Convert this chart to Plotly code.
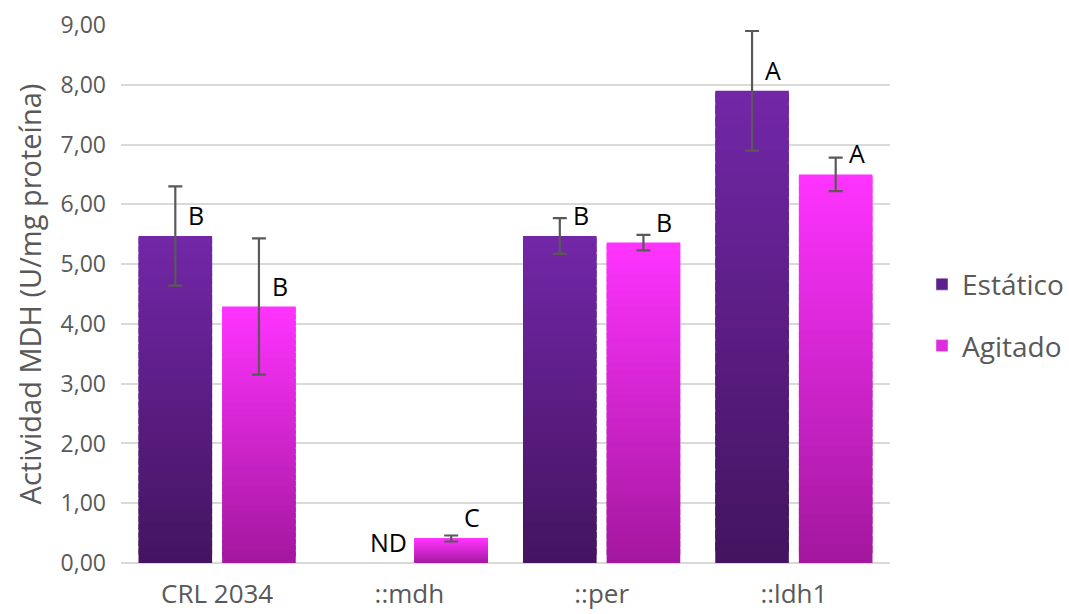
import plotly.graph_objects as go

# Data
categories = ["CRL 2034", "::mdh", "::per", "::ldh1"]
estatico = [5.47, 0.0, 5.47, 7.90]
estatico_err = [0.83, None, 0.30, 1.00]
agitado = [4.29, 0.41, 5.36, 6.50]
agitado_err = [1.14, 0.05, 0.13, 0.28]
estatico_labels = ["B", "ND", "B", "A"]
agitado_labels = ["B", "C", "B", "A"]

FONT = "Open Sans"
GREY = "#595959"
N_SLICES = 40


def mix(c1, c2, t):
    a = [int(c1[i:i + 2], 16) for i in (1, 3, 5)]
    b = [int(c2[i:i + 2], 16) for i in (1, 3, 5)]
    return "rgb({},{},{})".format(*[round(a[k] + (b[k] - a[k]) * t) for k in range(3)])


series = [
    dict(name="Estático", values=estatico, err=estatico_err, labels=estatico_labels,
         group="est", top="#7327a8", bottom="#43145f", legend="#5e1f8c", shift=-41.75),
    dict(name="Agitado", values=agitado, err=agitado_err, labels=agitado_labels,
         group="agi", top="#ff33ff", bottom="#a3179e", legend="#e02ae0", shift=41.75),
]

fig = go.Figure()

for s in series:
    vals = s["values"]
    # vertical gradient: each bar is built from overlapping slices, bottom to top
    for i in range(N_SLICES):
        t = (i + 0.5) / N_SLICES
        grow = 1.0 if i == N_SLICES - 1 else 1.8
        fig.add_trace(go.Bar(
            x=categories,
            y=[v / N_SLICES * grow if v > 0 else None for v in vals],
            base=[v * i / N_SLICES if v > 0 else None for v in vals],
            offsetgroup=s["group"],
            marker=dict(color=mix(s["bottom"], s["top"], t), line=dict(width=0)),
            showlegend=False,
            hoverinfo="skip",
        ))
    # full-height overlay carrying the error bars
    fig.add_trace(go.Bar(
        x=categories,
        y=[v if v > 0 else None for v in vals],
        offsetgroup=s["group"],
        name=s["name"],
        marker=dict(color="rgba(0,0,0,0)", line=dict(width=0)),
        error_y=dict(type="data", array=s["err"], color=GREY, thickness=2.2, width=7,
                     visible=True),
        showlegend=False,
    ))
    # legend swatch
    fig.add_trace(go.Bar(
        x=[None], y=[None], name=s["name"], legendgroup=s["group"],
        marker=dict(color=s["legend"]), showlegend=True,
    ))

# significance letters beside each error bar
for s in series:
    for c, v, lab in zip(categories, s["values"], s["labels"]):
        fig.add_annotation(
            x=c, y=v, text=lab, showarrow=False,
            xshift=s["shift"] + 21, yshift=21,
            font=dict(family=FONT, size=25, color="#000000"),
        )

fig.update_layout(
    width=1069, height=614,
    margin=dict(l=121, r=179, t=25, b=51, autoexpand=False),
    paper_bgcolor="white", plot_bgcolor="white",
    barmode="group", bargap=0.13, bargroupgap=0.12,
    font=dict(family=FONT, color=GREY),
    showlegend=True,
    legend=dict(
        xref="container", yref="container",
        x=1.0, xanchor="right", y=0.487, yanchor="middle",
        font=dict(family=FONT, size=28, color=GREY),
        tracegroupgap=22, itemwidth=30, traceorder="grouped",
    ),
)

fig.update_yaxes(
    range=[0, 9], tickvals=list(range(10)),
    ticktext=[f"{v},00" for v in range(10)],
    showgrid=True, gridcolor="#d9d9d9", gridwidth=2,
    zeroline=True, zerolinecolor="#d9d9d9", zerolinewidth=2,
    showline=False, ticks="", ticklabelstandoff=14, automargin=False,
    tickfont=dict(family=FONT, size=23, color=GREY),
    title=dict(text="Actividad MDH (U/mg proteína)", standoff=10,
               font=dict(family=FONT, size=29, color=GREY)),
)
fig.update_xaxes(
    showline=False, ticks="", showgrid=False, ticklabelstandoff=13, automargin=False,
    tickfont=dict(family=FONT, size=26, color=GREY),
)

fig.write_html("out.html")
